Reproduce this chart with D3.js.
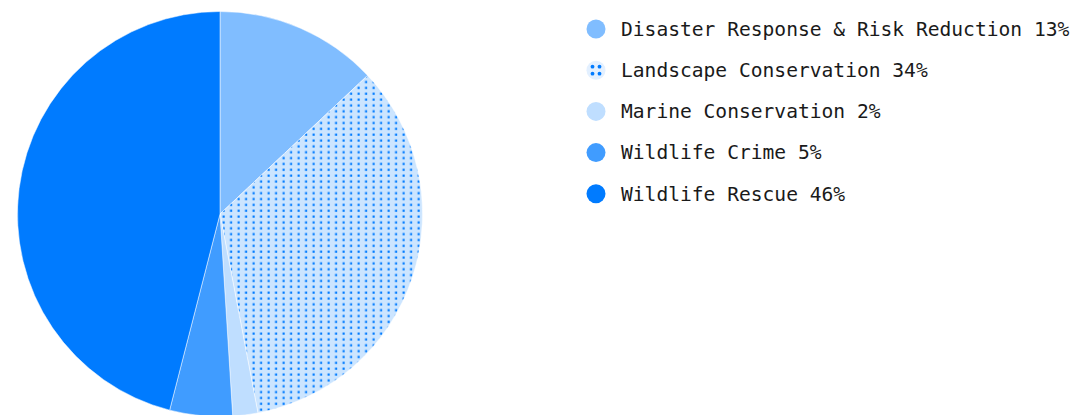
<!DOCTYPE html>
<html>
<head>
<meta charset="utf-8">
<style>
  body { margin: 0; background: #fff; }
  svg text { font-family: "DejaVu Sans Mono", "Liberation Mono", monospace; }
</style>
</head>
<body>
<svg width="1076" height="415"></svg>
<script src="https://cdn.jsdelivr.net/npm/d3@7"></script>
<script>

var categories = ["Disaster Response & Risk Reduction", "Landscape Conservation", "Marine Conservation", "Wildlife Crime", "Wildlife Rescue"],
    values = [13, 34, 2, 5, 46],
    colors = ["#80bdff", "url(#dots)", "#bfdeff", "#409cff", "#007bff"];

var svg = d3.select("svg");

// dotted fill for landscape slice
var defs = svg.append("defs");
var pat = defs.append("pattern")
    .attr("id", "dots")
    .attr("patternUnits", "userSpaceOnUse")
    .attr("width", 7.5)
    .attr("height", 5.85);
pat.append("rect").attr("width", 7.5).attr("height", 5.85).attr("fill", "#cce5ff");
pat.append("rect").attr("x", 2.5).attr("y", 1.5).attr("width", 2.2).attr("height", 2.2).attr("fill", "#007bff");

var radius = 202.5;

var pie = d3.pie().sort(null).value(function(d) { return d; });
var arc = d3.arc().innerRadius(0).outerRadius(radius);

var g = svg.append("g").attr("transform", "translate(220,214)");

g.selectAll("path")
    .data(pie(values))
  .enter().append("path")
    .attr("d", arc)
    .attr("fill", function(d, i) { return colors[i]; })
    .attr("stroke", "#fff")
    .attr("stroke-width", 0.5);

// legend
var legend = svg.append("g").attr("transform", "translate(596,29)");

var row = legend.selectAll("g")
    .data(categories)
  .enter().append("g")
    .attr("transform", function(d, i) { return "translate(0," + i * 41.2 + ")"; });

row.append("circle")
    .attr("r", 9.5)
    .attr("fill", function(d, i) { return i == 1 ? "#e3f0ff" : colors[i]; });

// little 2x2 dots in the landscape marker
var mk = legend.append("g").attr("transform", "translate(0,41.2)");
[[-3.5, -3.5], [3.5, -3.5], [-3.5, 3.5], [3.5, 3.5]].forEach(function(p) {
  mk.append("circle").attr("cx", p[0]).attr("cy", p[1]).attr("r", 1.9).attr("fill", "#007bff");
});

row.append("text")
    .attr("x", 25)
    .attr("dy", "0.35em")
    .attr("font-size", 19.6)
    .attr("fill", "#1a1a1a")
    .text(function(d, i) { return d + " " + values[i] + "%"; });

</script>
</body>
</html>
